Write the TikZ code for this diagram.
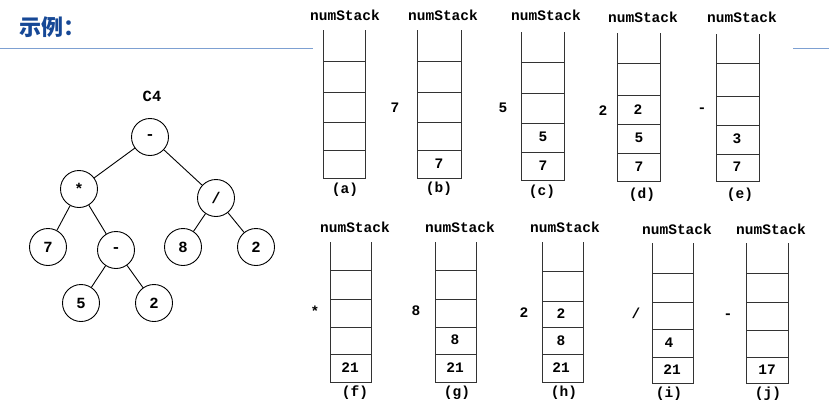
\documentclass[tikz,border=0pt]{standalone}
\usepackage{fontspec}
\setmonofont{Liberation Mono}
\newfontfamily\cjk{Noto Sans CJK SC}
\definecolor{hdblue}{RGB}{22,72,150}
\definecolor{rule}{RGB}{125,160,210}
\newcommand\drawstack[8]{%
  \draw[stk] (#1,#3) -- (#1,#8) -- (#2,#8) -- (#2,#3);
  \foreach \yy in {#4,#5,#6,#7} \draw[stk] (#1,\yy) -- (#2,\yy);
}
\begin{document}
\begin{tikzpicture}[x=1pt,y=-1pt,
  txt/.style={font=\ttfamily\bfseries\fontsize{14.5}{14.5}\selectfont, inner sep=0pt},
  circ/.style={circle, draw, line width=0.9pt, minimum size=37pt, inner sep=0pt, font=\ttfamily\bfseries\fontsize{15.5}{15.5}\selectfont},
  edge/.style={line width=0.9pt},
  stk/.style={line width=1pt, draw=black!80}]
\useasboundingbox (0,0) rectangle (829,415);
\fill[white] (0,0) rectangle (829,415);
% header
\node[font=\cjk\bfseries\fontsize{22}{22}\selectfont, text=hdblue, anchor=west, inner sep=0pt] (hd) at (19,27) {示例：};
\draw[rule, line width=1pt] (0,48) -- (313,48);
\draw[rule, line width=1pt] (793,48) -- (829,48);
% tree
\node[txt, font=\ttfamily\bfseries\fontsize{15.5}{15.5}\selectfont] (c4) at (152,96) {C4};
\node[circ] (r) at (150,137) {-};
\node[circ] (m) at (79,189) {*};
\node[circ] (d) at (216,198) {/};
\node[circ] (n7) at (48,247) {7};
\node[circ] (s) at (116,250) {-};
\node[circ] (n8) at (183,247) {8};
\node[circ] (n2a) at (256,247) {2};
\node[circ] (n5) at (81,303) {5};
\node[circ] (n2b) at (154,303) {2};
\draw[edge] (r) -- (m);
\draw[edge] (r) -- (d);
\draw[edge] (m) -- (n7);
\draw[edge] (m) -- (s);
\draw[edge] (d) -- (n8);
\draw[edge] (d) -- (n2a);
\draw[edge] (s) -- (n5);
\draw[edge] (s) -- (n2b);
% top row stacks
\drawstack{323}{365}{30}{61}{92}{122}{150}{178}
\drawstack{417}{461}{30}{61}{92}{122}{150}{178}
\drawstack{521}{564}{32}{62}{93}{123}{152}{180}
\drawstack{617}{660}{33}{63}{95}{124}{153}{181}
\drawstack{716}{759}{34}{63}{96}{125}{154}{181}
\node[txt] (ta) at (345,15) {numStack};
\node[txt] (tb) at (443,15) {numStack};
\node[txt] (tc) at (546,15) {numStack};
\node[txt] (td) at (643,17) {numStack};
\node[txt] (te) at (742,17) {numStack};
\node[txt] (ca) at (345,190) {(a)};
\node[txt] (cb) at (439,189) {(b)};
\node[txt] (cc) at (542,192) {(c)};
\node[txt] (cd) at (642,195) {(d)};
\node[txt] (ce) at (740,195) {(e)};
\node[txt] (lb) at (395,108) {7};
\node[txt] (lc) at (503,108) {5};
\node[txt] (ld) at (603,111) {2};
\node[txt] (le) at (702,110) {-};
\node[txt] (b1) at (439,164) {7};
\node[txt] (c1) at (543,137) {5};
\node[txt] (c2) at (543,166) {7};
\node[txt] (d1) at (638,110) {2};
\node[txt] (d2) at (639,138) {5};
\node[txt] (d3) at (639,167) {7};
\node[txt] (e1) at (737,139) {3};
\node[txt] (e2) at (737,167) {7};
% bottom row stacks
\drawstack{330}{371}{242}{270}{299}{327}{354}{382}
\drawstack{435}{476}{242}{270}{299}{327}{354}{382}
\drawstack{542}{583}{242}{271}{301}{327}{354}{382}
\drawstack{652}{693}{243}{273}{302}{329}{357}{383}
\drawstack{746}{788}{243}{273}{302}{330}{357}{383}
\node[txt] (tf) at (355,227) {numStack};
\node[txt] (tg) at (460,227) {numStack};
\node[txt] (th) at (565,227) {numStack};
\node[txt] (ti) at (677,229) {numStack};
\node[txt] (tj) at (771,229) {numStack};
\node[txt] (cf) at (355,393) {(f)};
\node[txt] (cg) at (457,393) {(g)};
\node[txt] (ch) at (564,393) {(h)};
\node[txt] (ci) at (669,394) {(i)};
\node[txt] (cj) at (768,394) {(j)};
\node[txt] (lf) at (315,311) {*};
\node[txt] (lg) at (416,311) {8};
\node[txt] (lh) at (524,313) {2};
\node[txt] (li) at (636,313) {/};
\node[txt] (lj) at (728,316) {-};
\node[txt] (f1) at (350,368) {21};
\node[txt] (g1) at (455,340) {8};
\node[txt] (g2) at (455,368) {21};
\node[txt] (h1) at (561,314) {2};
\node[txt] (h2) at (561,341) {8};
\node[txt] (h3) at (561,368) {21};
\node[txt] (i1) at (669,343) {4};
\node[txt] (i2) at (672,370) {21};
\node[txt] (j1) at (767,370) {17};
\end{tikzpicture}
\end{document}
